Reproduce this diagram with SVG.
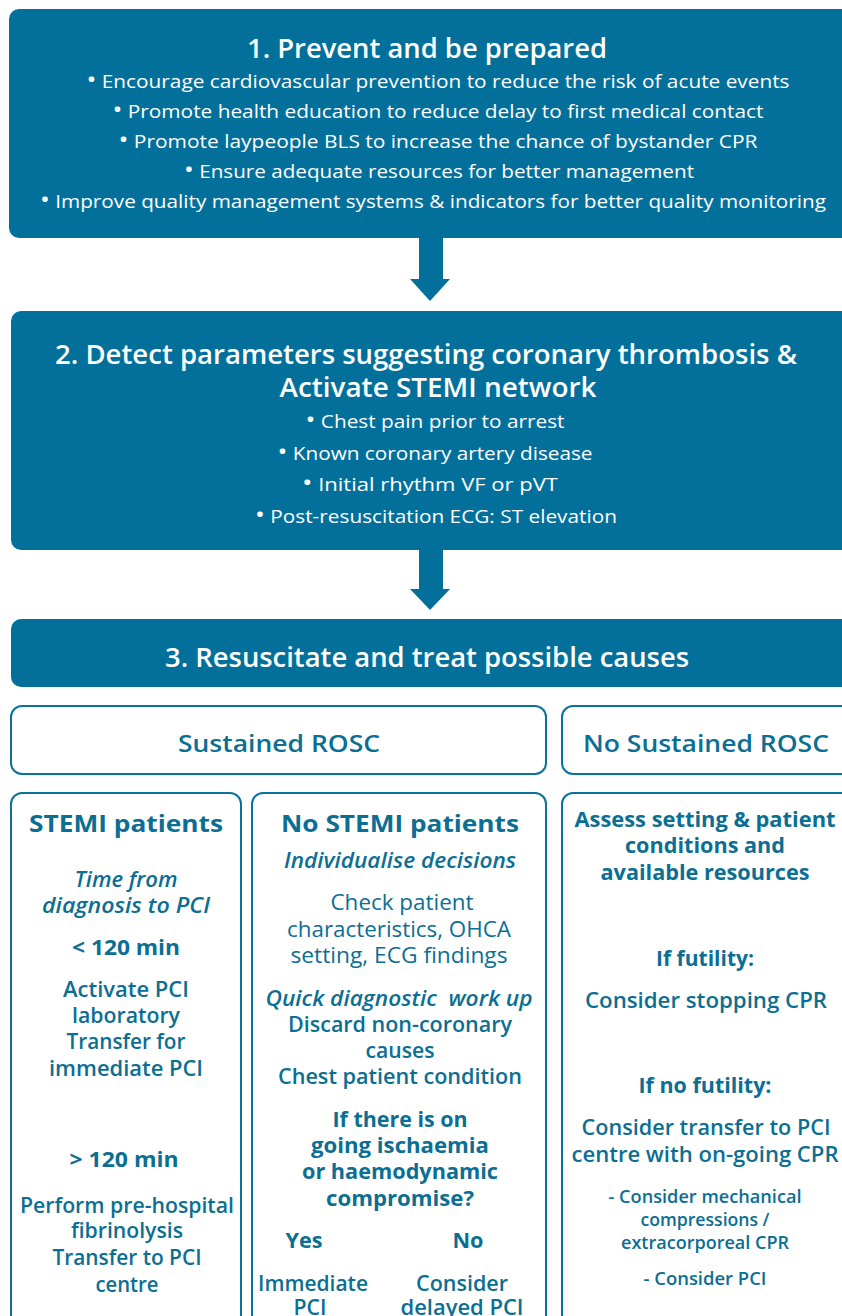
<svg xmlns="http://www.w3.org/2000/svg" width="842" height="1316" viewBox="0 0 842 1316">
<style>
.box{fill:#03709B}
.wb{fill:#ffffff;stroke:#0B729C;stroke-width:2}
.arr{fill:#03709B}
text{font-family:"Open Sans","Liberation Sans",sans-serif;text-anchor:middle}
.w{fill:#ffffff}
.c{fill:#0B6E93}
.h1{font-size:27px;font-weight:600}
.b1{font-size:19px;font-weight:400}
.bl{font-size:24px}
.h2{font-size:23px;font-weight:600}
.hd{font-size:24px;font-weight:700}
.it{font-size:21.5px;font-weight:600;font-style:italic}
.rg{font-size:21.5px;font-weight:600}
.lt{font-size:21.5px;font-weight:400}
.bd{font-size:21.5px;font-weight:700}
.sm{font-size:17.5px;font-weight:600}
.pre{white-space:pre}
</style>
<rect width="842" height="1316" fill="#ffffff"/>
<g id="connectors">
<polygon class="arr" points="419,237 443,237 443,279 450,279 430,301 410,279 419,279"/>
<polygon class="arr" points="419,549 443,549 443,589 450,589 430,610 410,589 419,589"/>
</g>
<g id="step1">
<rect class="box" x="9" y="9" width="860" height="229" rx="10"/>
<text class="w h1" x="427" y="58" textLength="360" lengthAdjust="spacingAndGlyphs">1. Prevent and be prepared</text>
<text class="w b1" x="438" y="88" textLength="703" lengthAdjust="spacingAndGlyphs"><tspan class="bl">•</tspan> Encourage cardiovascular prevention to reduce the risk of acute events</text>
<text class="w b1" x="438" y="118" textLength="651" lengthAdjust="spacingAndGlyphs"><tspan class="bl">•</tspan> Promote health education to reduce delay to first medical contact</text>
<text class="w b1" x="438" y="148" textLength="639" lengthAdjust="spacingAndGlyphs"><tspan class="bl">•</tspan> Promote laypeople BLS to increase the chance of bystander CPR</text>
<text class="w b1" x="439" y="178" textLength="510" lengthAdjust="spacingAndGlyphs"><tspan class="bl">•</tspan> Ensure adequate resources for better management</text>
<text class="w b1" x="433" y="208" textLength="786" lengthAdjust="spacingAndGlyphs"><tspan class="bl">•</tspan> Improve quality management systems &amp; indicators for better quality monitoring</text>
</g>
<g id="step2">
<rect class="box" x="11" y="311" width="860" height="239" rx="10"/>
<text class="w h1" x="426" y="364" textLength="742" lengthAdjust="spacingAndGlyphs">2. Detect parameters suggesting coronary thrombosis &amp;</text>
<text class="w h1" x="438" y="397" textLength="317" lengthAdjust="spacingAndGlyphs">Activate STEMI network</text>
<text class="w b1" x="435" y="428" textLength="259" lengthAdjust="spacingAndGlyphs"><tspan class="bl">•</tspan> Chest pain prior to arrest</text>
<text class="w b1" x="435" y="460" textLength="315" lengthAdjust="spacingAndGlyphs"><tspan class="bl">•</tspan> Known coronary artery disease</text>
<text class="w b1" x="430" y="491" textLength="256" lengthAdjust="spacingAndGlyphs"><tspan class="bl">•</tspan> Initial rhythm VF or pVT</text>
<text class="w b1" x="436" y="523" textLength="362" lengthAdjust="spacingAndGlyphs"><tspan class="bl">•</tspan> Post-resuscitation ECG: ST elevation</text>
</g>
<g id="step3">
<rect class="box" x="11" y="619" width="860" height="68" rx="10"/>
<text class="w h1" x="427" y="667" textLength="524" lengthAdjust="spacingAndGlyphs">3. Resuscitate and treat possible causes</text>
</g>
<g id="sustained-rosc">
<rect class="wb" x="11" y="706" width="535" height="68" rx="11"/>
<text class="c h2" x="279" y="752" textLength="202" lengthAdjust="spacingAndGlyphs">Sustained ROSC</text>
</g>
<g id="no-sustained-rosc">
<rect class="wb" x="562" y="706" width="300" height="68" rx="11"/>
<text class="c h2" x="706" y="752" textLength="246" lengthAdjust="spacingAndGlyphs">No Sustained ROSC</text>
</g>
<g id="stemi">
<rect class="wb" x="11" y="793" width="230" height="560" rx="11"/>
<text class="c hd" x="126" y="832" textLength="194" lengthAdjust="spacingAndGlyphs">STEMI patients</text>
<text class="c it" x="126" y="887" textLength="103" lengthAdjust="spacingAndGlyphs">Time from</text>
<text class="c it" x="126" y="913" textLength="168" lengthAdjust="spacingAndGlyphs">diagnosis to PCI</text>
<text class="c bd" x="126" y="955" textLength="108" lengthAdjust="spacingAndGlyphs">&lt; 120 min</text>
<text class="c rg" x="126" y="997" textLength="126" lengthAdjust="spacingAndGlyphs">Activate PCI</text>
<text class="c rg" x="126" y="1023" textLength="108" lengthAdjust="spacingAndGlyphs">laboratory</text>
<text class="c rg" x="126" y="1049" textLength="119" lengthAdjust="spacingAndGlyphs">Transfer for</text>
<text class="c rg" x="126" y="1076" textLength="154" lengthAdjust="spacingAndGlyphs">immediate PCI</text>
<text class="c bd" x="124" y="1167" textLength="109" lengthAdjust="spacingAndGlyphs">&gt; 120 min</text>
<text class="c rg" x="127" y="1213" textLength="214" lengthAdjust="spacingAndGlyphs">Perform pre-hospital</text>
<text class="c rg" x="127" y="1238" textLength="112" lengthAdjust="spacingAndGlyphs">fibrinolysis</text>
<text class="c rg" x="127" y="1265" textLength="149" lengthAdjust="spacingAndGlyphs">Transfer to PCI</text>
<text class="c rg" x="127" y="1292" textLength="63" lengthAdjust="spacingAndGlyphs">centre</text>
</g>
<g id="no-stemi">
<rect class="wb" x="252" y="793" width="294" height="560" rx="11"/>
<text class="c hd" x="400" y="832" textLength="238" lengthAdjust="spacingAndGlyphs">No STEMI patients</text>
<text class="c it" x="400" y="868" textLength="232" lengthAdjust="spacingAndGlyphs">Individualise decisions</text>
<text class="c lt" x="402" y="910" textLength="143" lengthAdjust="spacingAndGlyphs">Check patient</text>
<text class="c lt" x="399" y="937" textLength="224" lengthAdjust="spacingAndGlyphs">characteristics, OHCA</text>
<text class="c lt" x="399" y="963" textLength="217" lengthAdjust="spacingAndGlyphs">setting, ECG findings</text>
<text class="c it pre" x="399" y="1006" textLength="267" lengthAdjust="spacingAndGlyphs">Quick diagnostic  work up</text>
<text class="c rg" x="400" y="1032" textLength="224" lengthAdjust="spacingAndGlyphs">Discard non-coronary</text>
<text class="c rg" x="400" y="1058" textLength="69" lengthAdjust="spacingAndGlyphs">causes</text>
<text class="c rg" x="400" y="1084" textLength="244" lengthAdjust="spacingAndGlyphs">Chest patient condition</text>
<text class="c bd" x="400" y="1127" textLength="135" lengthAdjust="spacingAndGlyphs">If there is on</text>
<text class="c bd" x="400" y="1153" textLength="178" lengthAdjust="spacingAndGlyphs">going ischaemia</text>
<text class="c bd" x="400" y="1179" textLength="196" lengthAdjust="spacingAndGlyphs">or haemodynamic</text>
<text class="c bd" x="400" y="1206" textLength="148" lengthAdjust="spacingAndGlyphs">compromise?</text>
<text class="c bd" x="304" y="1248" textLength="37" lengthAdjust="spacingAndGlyphs">Yes</text>
<text class="c bd" x="468" y="1248" textLength="31" lengthAdjust="spacingAndGlyphs">No</text>
<text class="c rg" x="313" y="1291" textLength="110" lengthAdjust="spacingAndGlyphs">Immediate</text>
<text class="c rg" x="310" y="1315" textLength="33" lengthAdjust="spacingAndGlyphs">PCI</text>
<text class="c rg" x="462" y="1291" textLength="92" lengthAdjust="spacingAndGlyphs">Consider</text>
<text class="c rg" x="462" y="1315" textLength="123" lengthAdjust="spacingAndGlyphs">delayed PCI</text>
</g>
<g id="assess">
<rect class="wb" x="562" y="793" width="300" height="560" rx="11"/>
<text class="c bd" x="705" y="827" textLength="261" lengthAdjust="spacingAndGlyphs">Assess setting &amp; patient</text>
<text class="c bd" x="705" y="853" textLength="160" lengthAdjust="spacingAndGlyphs">conditions and</text>
<text class="c bd" x="705" y="880" textLength="209" lengthAdjust="spacingAndGlyphs">available resources</text>
<text class="c bd" x="705" y="966" textLength="98" lengthAdjust="spacingAndGlyphs">If futility:</text>
<text class="c rg" x="706" y="1008" textLength="242" lengthAdjust="spacingAndGlyphs">Consider stopping CPR</text>
<text class="c bd" x="705" y="1093" textLength="133" lengthAdjust="spacingAndGlyphs">If no futility:</text>
<text class="c rg" x="706" y="1135" textLength="249" lengthAdjust="spacingAndGlyphs">Consider transfer to PCI</text>
<text class="c rg" x="705" y="1162" textLength="267" lengthAdjust="spacingAndGlyphs">centre with on-going CPR</text>
<text class="c sm" x="705" y="1203" textLength="193" lengthAdjust="spacingAndGlyphs">- Consider mechanical</text>
<text class="c sm" x="705" y="1226" textLength="129" lengthAdjust="spacingAndGlyphs">compressions /</text>
<text class="c sm" x="705" y="1249" textLength="168" lengthAdjust="spacingAndGlyphs">extracorporeal CPR</text>
<text class="c sm" x="705" y="1285" textLength="123" lengthAdjust="spacingAndGlyphs">- Consider PCI</text>
</g>
</svg>
